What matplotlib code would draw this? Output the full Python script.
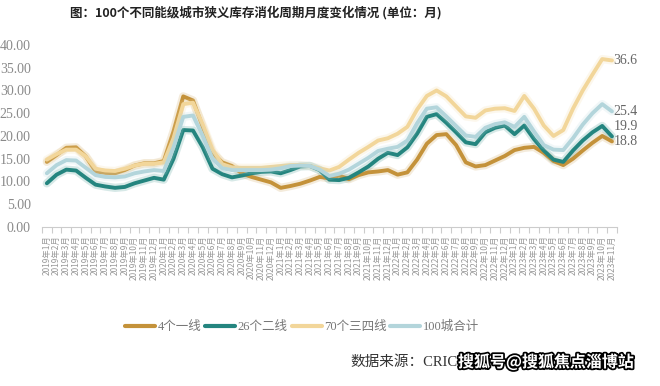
import numpy as np
import matplotlib
matplotlib.use('Agg')
import matplotlib.pyplot as plt
import matplotlib.patheffects as pe

plt.rcParams['font.family'] = ['Liberation Serif', 'Noto Sans CJK SC', 'DejaVu Sans']

# monthly, 2019-01 .. 2023-11
months = [f"{y}年{m}月" for y in range(2019, 2024) for m in range(1, 13)][:59]

tier1 = [14.3, 15.8, 17.4, 17.5, 15.5, 12.2, 11.9, 11.8, 12.5, 13.5,
         14.0, 14.0, 14.5, 21.0, 28.7, 27.8, 22.0, 16.3, 14.2, 13.4,
         11.8, 11.0, 10.4, 9.8, 8.6, 9.0, 9.5, 10.2, 11.0, 10.7,
         11.3, 10.5, 11.4, 12.0, 12.2, 12.5, 11.5, 12.0, 14.8, 18.3,
         20.2, 20.4, 18.0, 14.2, 13.3, 13.6, 14.6, 15.6, 16.9, 17.4,
         17.6, 16.3, 14.5, 13.6, 15.0, 16.8, 18.5, 20.0, 18.8]

tier2 = [9.6, 11.5, 12.6, 12.4, 10.8, 9.3, 8.9, 8.6, 8.8, 9.6,
         10.2, 10.8, 10.4, 15.0, 21.3, 21.2, 17.5, 12.8, 11.6, 10.9,
         11.3, 11.8, 12.1, 12.2, 11.8, 12.5, 13.3, 13.4, 12.5, 10.4,
         10.3, 10.8, 12.0, 13.3, 15.0, 16.3, 15.8, 17.5, 20.5, 24.2,
         24.8, 22.9, 20.8, 18.6, 18.2, 20.8, 21.8, 22.3, 20.4, 22.3,
         19.3, 16.8, 14.8, 14.3, 16.8, 19.0, 20.8, 22.2, 19.9]

tier34 = [14.8, 16.0, 17.0, 17.0, 15.5, 12.8, 12.4, 12.3, 12.8, 13.5,
          13.9, 13.9, 14.2, 19.5, 27.0, 27.3, 22.5, 17.0, 13.8, 13.1,
          13.0, 13.0, 13.0, 13.2, 13.4, 13.6, 13.6, 13.4, 12.9, 12.4,
          13.2, 14.8, 16.3, 17.6, 19.0, 19.5, 20.5, 22.0, 25.8, 28.8,
          30.0, 28.7, 26.5, 24.3, 24.0, 25.6, 26.0, 26.1, 25.5, 28.8,
          26.0, 22.3, 20.0, 21.3, 26.0, 30.0, 33.5, 36.9, 36.6]

total = [11.8, 13.6, 14.7, 14.6, 13.0, 11.4, 11.0, 10.9, 11.1, 11.8,
         12.2, 12.5, 12.3, 17.5, 24.2, 24.5, 20.0, 15.0, 12.9, 12.5,
         12.5, 12.5, 12.5, 12.6, 12.9, 13.4, 13.5, 13.4, 12.6, 11.2,
         11.7, 12.6, 13.9, 15.2, 16.7, 17.2, 17.6, 19.0, 22.8, 26.0,
         26.3, 24.3, 22.2, 20.1, 19.8, 21.8, 22.6, 23.0, 22.0, 24.2,
         21.0, 18.0, 17.0, 16.9, 19.5, 22.5, 25.0, 27.0, 25.4]

names = ['4个一线', '26个二线', '70个三四线', '100城合计']
colors = ['#C4923A', '#24857F', '#F2D69A', '#B3D5DB']
end_offsets = [0, 7.5, 0, 0]  # pt, lift 19.9 label clear of 18.8

fig = plt.figure(figsize=(6.6, 3.86), dpi=100)
ax = fig.add_axes([0.0636, 0.412, 0.871, 0.4715])

x = np.arange(len(months))
series = [tier1, tier2, tier34, total]
order = [2, 3, 1, 0]
lines = {}
for k in order:
    ax.plot(x, series[k], color=colors[k], lw=6, alpha=0.18,
            solid_capstyle='round', zorder=2 + k)
    lines[k], = ax.plot(x, series[k], color=colors[k], lw=2.8,
                        solid_capstyle='round', solid_joinstyle='round',
                        zorder=3 + k)

for k in [2, 3, 1, 0]:
    ax.annotate(f"{series[k][-1]:.1f}", (x[-1], series[k][-1]),
                xytext=(1, end_offsets[k]), textcoords='offset points',
                ha='left', va='center', fontsize=10, color='#666666',
                annotation_clip=False)

ax.set_xlim(-0.5, len(months) - 0.5)
ax.set_ylim(0, 40)
ax.set_yticks(np.arange(0, 41, 5))
ax.set_yticklabels([f"{v:.2f}" for v in np.arange(0, 41, 5)])
ax.tick_params(axis='y', length=0, labelsize=10, labelcolor='#8a8a8a', pad=8)

ax.set_xticks(x)
ax.set_xticklabels(months, rotation=90, fontsize=6, color='#999999',
                   family=['Noto Sans CJK SC', 'DejaVu Sans'])
ax.tick_params(axis='x', which='major', length=0, pad=6)
ax.set_xticks(np.arange(-0.5, len(months), 1), minor=True)
ax.tick_params(axis='x', which='minor', length=4, color='#cccccc', width=0.8)

for s in ['top', 'right', 'left']:
    ax.spines[s].set_visible(False)
ax.spines['bottom'].set_color('#cccccc')

fig.text(70 / 660, 1 - 13 / 386, '图：100个不同能级城市狭义库存消化周期月度变化情况 (单位：月)',
         ha='left', va='center', fontsize=9, fontweight='bold', color='#222222',
         family=['Noto Sans CJK SC'])

fig.legend([lines[k] for k in range(4)], names, loc='center',
           bbox_to_anchor=(0.458, 0.153), ncol=4, frameon=False,
           fontsize=9, handlelength=2.4, handletextpad=0.2, columnspacing=0.3,
           labelcolor='#777777')
for h in fig.legends[0].legend_handles:
    h.set_linewidth(3)

fig.text(350 / 660, 1 - 362 / 386, '数据来源：CRIC', ha='left', va='center',
         fontsize=10.5, color='#333333')
fig.text(458 / 660, 1 - 362 / 386, '搜狐号@搜狐焦点淄博站', ha='left', va='center',
         fontsize=11.5, color='white', fontweight='bold',
         family=['Noto Sans CJK SC'],
         path_effects=[pe.withStroke(linewidth=2.5, foreground='black')])

fig.savefig('out.png', dpi=100)
